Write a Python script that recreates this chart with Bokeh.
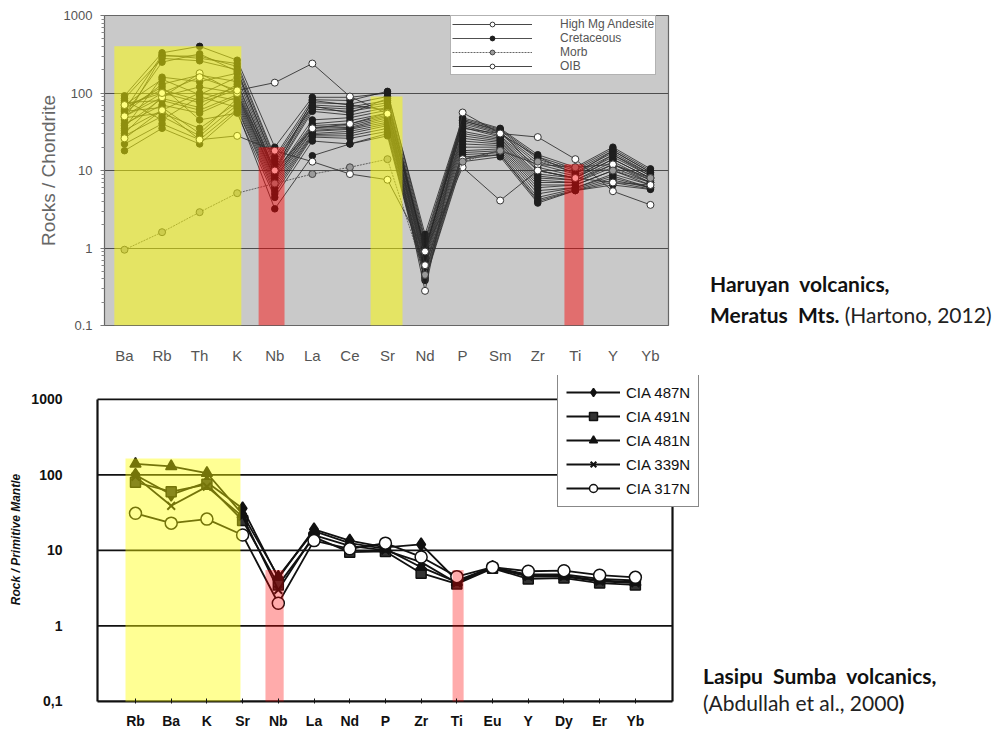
from bokeh.plotting import figure
from bokeh.models import Range1d, FixedTicker, Legend, LegendItem, Div
from bokeh.layouts import column, row
from bokeh.embed import file_html
from bokeh.resources import INLINE

# ---------------- data: top chart (Haruyan volcanics) ----------------
top_elements = ["Ba", "Rb", "Th", "K", "Nb", "La", "Ce", "Sr", "Nd", "P", "Sm", "Zr", "Ti", "Y", "Yb"]

cretaceous = [
    [92, 330, 400, 265, 20, 88, 88, 100, 1.50, 48, 35, 16, 11.0, 20, 10.5],
    [60, 310, 280, 240, 15, 82, 80, 105, 1.30, 46, 34, 15, 10.5, 19, 10.0],
    [45, 300, 300, 220, 14, 75, 72, 90, 1.20, 44, 33, 14, 10.0, 18, 9.5],
    [85, 280, 260, 200, 12, 70, 66, 80, 1.10, 42, 31, 13, 9.5, 17, 9.0],
    [35, 160, 140, 180, 11, 66, 62, 75, 1.00, 40, 30, 12, 9.0, 16, 8.5],
    [70, 150, 95, 160, 10, 62, 58, 70, 0.95, 38, 28, 11, 8.5, 15, 8.5],
    [55, 130, 170, 140, 9.5, 58, 52, 65, 0.90, 36, 27, 10, 8.0, 14, 8.0],
    [65, 110, 80, 120, 9, 45, 48, 60, 0.85, 32, 26, 9, 8.0, 14, 8.0],
    [50, 100, 75, 110, 9, 40, 44, 55, 0.80, 30, 25, 8.5, 7.5, 13, 7.5],
    [30, 90, 120, 100, 8.5, 38, 40, 52, 0.75, 28, 24, 8, 7.5, 12, 7.5],
    [75, 80, 60, 95, 8, 36, 38, 50, 0.70, 26, 23, 7.5, 7.0, 12, 7.0],
    [40, 70, 55, 90, 8, 35, 36, 48, 0.65, 24, 22, 7, 7.0, 11, 7.0],
    [58, 65, 30, 85, 7.5, 33, 35, 45, 0.60, 22, 21, 6.5, 6.5, 10, 7.0],
    [33, 60, 100, 80, 7, 32, 34, 42, 0.55, 20, 20, 6, 6.5, 10, 6.5],
    [48, 55, 35, 75, 6.5, 30, 32, 40, 0.50, 18, 19, 5.5, 6.0, 9, 6.5],
    [28, 50, 28, 70, 6, 29, 30, 38, 0.48, 17, 18, 5, 6.0, 8.5, 6.0],
    [80, 45, 90, 65, 5.5, 28, 28, 35, 0.45, 16, 17, 4.5, 5.8, 8, 6.0],
    [22, 40, 25, 62, 5, 27, 26, 32, 0.42, 15, 16, 4.2, 5.6, 7.5, 6.0],
    [18, 35, 22, 58, 3.2, 15.5, 22, 30, 0.40, 14, 16, 4, 5.5, 7, 5.8],
    [62, 120, 45, 55, 4.5, 24, 22, 28, 0.38, 13, 15, 3.8, 5.5, 6.5, 5.7],
    [38, 85, 65, 130, 10, 80, 70, 60, 1.00, 35, 30, 15, 9.0, 18, 9.5],
    [52, 250, 320, 190, 13, 68, 55, 85, 0.90, 44, 32, 10, 8.0, 16, 9.0],
]
high_mg_andesite = [
    [50, 88, 180, 100, 10, 35, 40, 55, 0.60, 14, 18, 12, 11, 12, 8],
    [26, 60, 25, 28, 18, 13, 9, 7.6, 0.90, 11, 4.1, 10, 8, 7, 6.5],
]
morb = [0.95, 1.6, 2.9, 5.1, 6.8, 9, 11, 14, 0.45, 13, 18, 13, 11, 10, 8]
oib = [70, 100, 160, 108, 136, 240, 90, 54, 0.28, 56, 30, 27, 14, 5.4, 3.6]

# highlight bands: (left, right, top, colour)
top_bands = [(-0.27, 3.11, 400, "#ffff00"), (3.57, 4.26, 20, "#ff0000"),
             (6.55, 7.40, 90, "#ffff00"), (11.71, 12.22, 12, "#ff0000")]

# ---------------- data: bottom chart (Lasipu Sumba volcanics) ----------------
bottom_elements = ["Rb", "Ba", "K", "Sr", "Nb", "La", "Nd", "P", "Zr", "Ti", "Eu", "Y", "Dy", "Er", "Yb"]
cia_487n = [100, 55, 80, 36, 4.3, 19, 13.5, 11, 12, 4.0, 6.0, 4.8, 4.8, 4.2, 4.0]
cia_491n = [80, 60, 75, 25, 3.5, 15, 9.5, 9.7, 5.0, 3.6, 5.8, 4.2, 4.3, 3.7, 3.5]
cia_481n = [140, 130, 106, 30, 4.5, 18, 12.5, 10.5, 6.0, 3.8, 6.0, 4.6, 4.6, 4.0, 3.8]
cia_339n = [95, 39, 70, 28, 3.0, 16, 11.5, 10, 7.0, 3.7, 5.9, 4.5, 4.5, 3.9, 3.7]
cia_317n = [31, 23, 26, 16, 2.0, 13.5, 10.5, 12.5, 8.2, 4.5, 6.0, 5.3, 5.4, 4.7, 4.4]
bottom_bands = [(-0.28, 2.94, 165, "#ffff00"), (3.64, 4.15, 5.5, "#ff0000"),
                (8.88, 9.19, 5.5, "#ff0000")]

CW = 703          # width of each chart canvas
TW = 995 - CW     # width of each caption column
FONT = "Liberation Sans"
decades = [0.1, 1, 10, 100, 1000]
minor = [m * d for d in [0.1, 1, 10, 100] for m in range(2, 10)]

# ======================= TOP FIGURE =======================
H1 = 374
p1 = figure(width=CW, height=H1, y_axis_type="log",
            x_range=Range1d(-0.532, 14.48), y_range=Range1d(0.1, 1000),
            output_backend="svg", toolbar_location=None,
            min_border_left=104, min_border_right=35, min_border_top=15, min_border_bottom=49,
            background_fill_color="#c9c9c9", border_fill_color="white",
            outline_line_color="#666666", outline_line_width=1.2)
p1.xgrid.visible = False
p1.ygrid.ticker = FixedTicker(ticks=decades)
p1.ygrid.grid_line_color = "#4d4d4d"
p1.ygrid.grid_line_width = 1.2

xs = list(range(len(top_elements)))
leg_rend = {}
for r in cretaceous:
    lr = p1.line(xs, r, line_color="#262626", line_width=0.9, line_alpha=0.9)
    sr = p1.scatter(xs, r, marker="circle", size=6.5, fill_color="#1e1e1e", line_color="#1e1e1e")
    leg_rend.setdefault("Cretaceous", [lr, sr])
for r in high_mg_andesite:
    lr = p1.line(xs, r, line_color="#333333", line_width=0.9)
    sr = p1.scatter(xs, r, marker="circle", size=7, fill_color="white", line_color="#333333")
    leg_rend.setdefault("High Mg Andesite", [lr, sr])
lr = p1.line(xs, morb, line_color="#555555", line_width=0.9, line_dash="2 1")
sr = p1.scatter(xs, morb, marker="circle", size=7, fill_color="#9a9a9a", line_color="#444444")
leg_rend["Morb"] = [lr, sr]
lr = p1.line(xs, oib, line_color="#333333", line_width=0.9)
sr = p1.scatter(xs, oib, marker="circle", size=7, fill_color="white", line_color="#333333")
leg_rend["OIB"] = [lr, sr]

for left, right, top, col in top_bands:
    p1.quad(left=left, right=right, bottom=0.1, top=top, fill_color=col,
            fill_alpha=0.5 if col == "#ffff00" else 0.45, line_color=None)

p1.xaxis.ticker = FixedTicker(ticks=xs)
p1.xaxis.major_label_overrides = {i: e for i, e in enumerate(top_elements)}
p1.xaxis.major_tick_line_color = None
p1.xaxis.minor_tick_line_color = None
p1.xaxis.axis_line_color = None
p1.xaxis.major_label_text_font = FONT
p1.xaxis.major_label_text_font_size = "15px"
p1.xaxis.major_label_text_color = "#555555"
p1.xaxis.major_label_standoff = 15

p1.yaxis.ticker = FixedTicker(ticks=decades, minor_ticks=minor)
p1.yaxis.major_label_overrides = {0.1: "0.1", 1: "1", 10: "10", 100: "100", 1000: "1000"}
p1.yaxis.axis_line_color = None
p1.yaxis.major_tick_line_color = "#777777"
p1.yaxis.major_tick_out = 4
p1.yaxis.major_tick_in = 0
p1.yaxis.minor_tick_line_color = "#888888"
p1.yaxis.minor_tick_out = 3
p1.yaxis.minor_tick_in = 0
p1.yaxis.major_label_text_font = FONT
p1.yaxis.major_label_text_font_size = "13px"
p1.yaxis.major_label_text_color = "#555555"
p1.yaxis.major_label_standoff = 8
p1.yaxis.axis_label = "Rocks / Chondrite"
p1.yaxis.axis_label_text_font = FONT
p1.yaxis.axis_label_text_font_style = "normal"
p1.yaxis.axis_label_text_font_size = "19px"
p1.yaxis.axis_label_text_color = "#666666"
p1.yaxis.axis_label_standoff = 2

order = ["High Mg Andesite", "Cretaceous", "Morb", "OIB"]
leg1 = Legend(items=[LegendItem(label=k, renderers=leg_rend[k]) for k in order],
              location=(346, 250), orientation="vertical",
              glyph_width=80, glyph_height=12, label_height=12, spacing=0, padding=1,
              label_standoff=28, margin=0,
              label_text_font=FONT, label_text_font_size="12px", label_text_color="#555555",
              label_text_line_height=1.0,
              background_fill_color="white", background_fill_alpha=1.0,
              border_line_color="#666666", border_line_width=1.5)
p1.add_layout(leg1)

CAP = "font-family: Lato, 'Open Sans', sans-serif; font-size: 21px; color: #111111; white-space: nowrap;"
t1 = Div(width=TW, height=H1, margin=0,
         text=('<div style="%s margin-top: 268px; margin-left: 7px; line-height: 31px;">'
               '<b>Haruyan&nbsp;&nbsp;volcanics,</b><br>'
               '<b>Meratus&nbsp;&nbsp;Mts.</b>'
               '<span style="color:#222222; margin-left:5px">(Hartono, 2012)</span>'
               '</div>') % CAP)

# ======================= BOTTOM FIGURE =======================
H2 = 731 - H1
bx0, bx1 = -1.064, 15.04     # chart box (left / right) in category units
by0, by1 = 0.1, 1000         # chart box (bottom / top) in data units
p2 = figure(width=CW, height=H2, y_axis_type="log",
            x_range=Range1d(-1.12, 15.88), y_range=Range1d(0.094, 2074),
            output_backend="svg", toolbar_location=None,
            min_border_left=95, min_border_right=1, min_border_top=1, min_border_bottom=27,
            background_fill_color="white", border_fill_color="white",
            outline_line_color=None)
p2.grid.visible = False

# box and grid lines of the chart
p2.segment(x0=[bx0] * 4, x1=[bx1] * 4, y0=[1, 10, 100, by1], y1=[1, 10, 100, by1],
           line_color="#111111", line_width=1.8)
p2.segment(x0=[bx0, bx1, bx0], x1=[bx0, bx1, bx1], y0=[by0, by0, by0], y1=[by1, by1, by0],
           line_color="#111111", line_width=2.2)

xb = list(range(len(bottom_elements)))
series = [("CIA 487N", cia_487n, "diamond", 13, "#111111"),
          ("CIA 491N", cia_491n, "square", 10, "#333333"),
          ("CIA 481N", cia_481n, "triangle", 11, "#111111"),
          ("CIA 339N", cia_339n, "x", 11, None),
          ("CIA 317N", cia_317n, "circle", 12, "white")]
items2 = []
for name, vals, mk, sz, fc in series:
    lr = p2.line(xb, vals, line_color="#111111", line_width=1.8)
    if mk == "x":
        sr = p2.scatter(xb, vals, marker="x", size=sz, line_color="#111111", line_width=2)
    else:
        sr = p2.scatter(xb, vals, marker=mk, size=sz, fill_color=fc, line_color="#111111",
                        line_width=1.5)
    items2.append(LegendItem(label=name, renderers=[lr, sr]))

for left, right, top, col in bottom_bands:
    p2.quad(left=left, right=right, bottom=by0, top=top, fill_color=col,
            fill_alpha=0.42 if col == "#ffff00" else 0.33, line_color=None)

p2.xaxis.ticker = FixedTicker(ticks=xb)
p2.xaxis.major_label_overrides = {i: e for i, e in enumerate(bottom_elements)}
p2.xaxis.axis_line_color = None
p2.xaxis.major_tick_line_color = "#111111"
p2.xaxis.major_tick_in = 5
p2.xaxis.major_tick_out = 0
p2.xaxis.minor_tick_line_color = None
p2.xaxis.major_label_text_font = FONT
p2.xaxis.major_label_text_font_style = "bold"
p2.xaxis.major_label_text_font_size = "14px"
p2.xaxis.major_label_text_color = "#111111"
p2.xaxis.major_label_standoff = 9

p2.yaxis.ticker = FixedTicker(ticks=decades)
p2.yaxis.major_label_overrides = {0.1: "0,1", 1: "1", 10: "10", 100: "100", 1000: "1000"}
p2.yaxis.axis_line_color = None
p2.yaxis.major_tick_line_color = None
p2.yaxis.minor_tick_line_color = None
p2.yaxis.major_label_text_font = FONT
p2.yaxis.major_label_text_font_style = "bold"
p2.yaxis.major_label_text_font_size = "14px"
p2.yaxis.major_label_text_color = "#111111"
p2.yaxis.major_label_standoff = 27
p2.yaxis.axis_label = "Rock / Primitive Mantle"
p2.yaxis.axis_label_text_font = FONT
p2.yaxis.axis_label_text_font_style = "bold italic"
p2.yaxis.axis_label_text_font_size = "12px"
p2.yaxis.axis_label_text_color = "#111111"
p2.yaxis.axis_label_standoff = 5

leg2 = Legend(items=items2, location=(462, 196), orientation="vertical",
              glyph_width=54, glyph_height=20, label_height=20, spacing=4, padding=8,
              label_standoff=6, margin=0,
              label_text_font=FONT, label_text_font_size="15px", label_text_color="#111111",
              background_fill_color="white", background_fill_alpha=1.0,
              border_line_color="#111111", border_line_width=1.6)
p2.add_layout(leg2)

t2 = Div(width=TW, height=H2, margin=0,
         text=('<div style="%s margin-top: 288px; margin-left: 0px; line-height: 27px;">'
               '<b>Lasipu&nbsp;&nbsp;Sumba&nbsp;&nbsp;volcanics,</b><br>'
               '<span style="color:#222222">(Abdullah et al., 2000</span><b>)</b>'
               '</div>') % CAP)

layout = column(row(p1, t1, spacing=0), row(p2, t2, spacing=0), spacing=0)
open("out.html", "w").write(file_html(layout, INLINE))
